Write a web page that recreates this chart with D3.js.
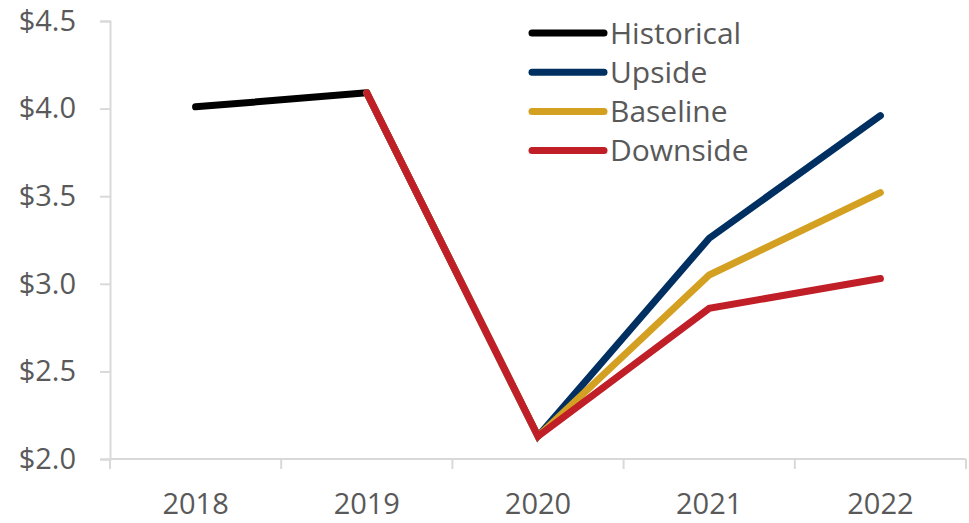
<!DOCTYPE html>
<html>
<head>
<meta charset="utf-8">
<script src="https://cdn.jsdelivr.net/npm/d3@7/dist/d3.min.js"></script>
<style>
  html, body { margin: 0; padding: 0; background: #fff; }
  svg { display: block; font-family: "Open Sans", "Noto Sans", sans-serif; }
</style>
</head>
<body>
<svg id="chart" width="969" height="523"></svg>
<script>
// Years on the category axis
const years = ["2018", "2019", "2020", "2021", "2022"];

// Series values (dollars); null where a series has no value
const historical = [4.01, 4.09, null, null, null];
const upside     = [null, 4.09, 2.13, 3.26, 3.96];
const baseline   = [null, 4.09, 2.13, 3.05, 3.52];
const downside   = [null, 4.09, 2.13, 2.86, 3.03];

const yTicks = [2.0, 2.5, 3.0, 3.5, 4.0, 4.5];

const seriesNames  = ["Historical", "Upside", "Baseline", "Downside"];
const seriesValues = [historical, upside, baseline, downside];
const seriesColors = ["#000000", "#003062", "#D4A021", "#C01F27"];

const svg = d3.select("#chart");
const margin = { left: 110, right: 3, top: 21, bottom: 64 };
const W = 969, H = 523;

const x = d3.scaleBand().domain(years).range([margin.left, W - margin.right]).padding(0);
const y = d3.scaleLinear().domain([2.0, 4.5]).range([H - margin.bottom, margin.top]);

const axisColor = "#d9d9d9";
const textColor = "#595959";

// Y axis
const yAxis = svg.append("g")
  .attr("transform", `translate(${margin.left},0)`)
  .call(d3.axisLeft(y).tickValues(yTicks).tickSize(10).tickPadding(24)
    .tickFormat(d => "$" + d3.format(".1f")(d)));
yAxis.select(".domain").attr("stroke", axisColor).attr("stroke-width", 2);
yAxis.selectAll(".tick line").attr("stroke", axisColor).attr("stroke-width", 2);
yAxis.selectAll(".tick text").attr("fill", textColor).attr("font-size", 29)
  .attr("font-family", "'Open Sans', sans-serif");

// X axis: tick marks sit on band boundaries, labels at band centres
const xAxisG = svg.append("g").attr("transform", `translate(0,${y(2.0)})`);
xAxisG.append("line")
  .attr("x1", margin.left).attr("x2", W - margin.right)
  .attr("stroke", axisColor).attr("stroke-width", 2);
const bounds = years.map(d => x(d)).concat([x(years[years.length - 1]) + x.bandwidth()]);
xAxisG.selectAll("line.tk").data(bounds).join("line")
  .attr("class", "tk")
  .attr("x1", d => d).attr("x2", d => d)
  .attr("y1", 0).attr("y2", 10)
  .attr("stroke", axisColor).attr("stroke-width", 2);
xAxisG.selectAll("text").data(years).join("text")
  .attr("x", d => x(d) + x.bandwidth() / 2)
  .attr("y", 55)
  .attr("text-anchor", "middle")
  .attr("fill", textColor)
  .attr("font-size", 29)
  .text(d => d);

// Lines
const line = d3.line()
  .defined(d => d.v !== null)
  .x(d => x(d.year) + x.bandwidth() / 2)
  .y(d => y(d.v));

seriesValues.forEach((vals, i) => {
  svg.append("path")
    .datum(years.map((yr, j) => ({ year: yr, v: vals[j] })))
    .attr("d", line)
    .attr("fill", "none")
    .attr("stroke", seriesColors[i])
    .attr("stroke-width", 7)
    .attr("stroke-linecap", "round")
    .attr("stroke-linejoin", "miter");
});

// Legend
const legend = svg.append("g").attr("transform", "translate(530,33)");
seriesNames.forEach((name, i) => {
  const g = legend.append("g").attr("transform", `translate(0,${i * 39.2})`);
  g.append("line")
    .attr("x1", 2).attr("x2", 74)
    .attr("stroke", seriesColors[i])
    .attr("stroke-width", 7)
    .attr("stroke-linecap", "round");
  g.append("text")
    .attr("x", 80).attr("y", 0)
    .attr("dy", "0.35em")
    .attr("fill", textColor)
    .attr("font-size", 30)
    .text(name);
});
</script>
</body>
</html>
